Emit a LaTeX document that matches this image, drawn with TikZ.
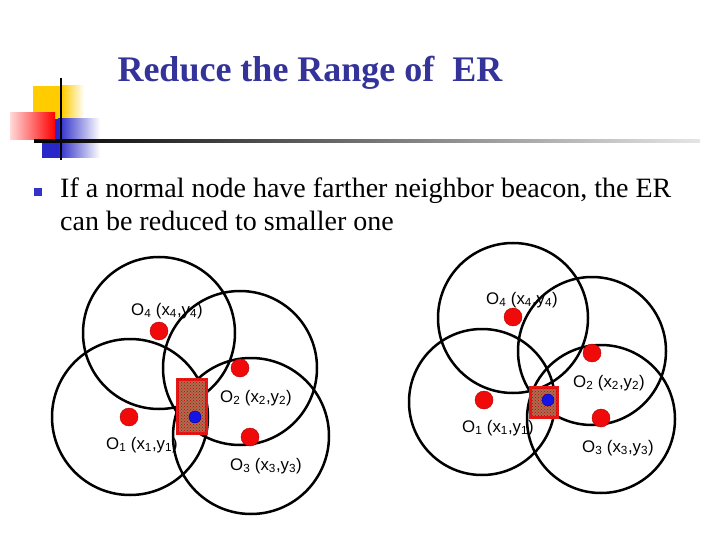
\documentclass[tikz,border=0pt]{standalone}
\usepackage{fontspec}
\setmainfont{Liberation Serif}
\newfontfamily\arialf{Liberation Sans}
\usetikzlibrary{patterns}
\definecolor{titleblue}{RGB}{51,51,153}
\definecolor{dotred}{RGB}{240,10,10}
\definecolor{beaconblue}{RGB}{20,20,230}
\definecolor{ygold}{RGB}{255,204,0}
\definecolor{lblue}{RGB}{40,40,200}
\definecolor{bulblue}{RGB}{51,51,204}
\definecolor{boxbrown}{RGB}{170,110,80}
\definecolor{boxred}{RGB}{230,25,25}
\tikzset{
  range/.style={draw=black, line width=2.5pt, circle, inner sep=0pt, minimum size=#1},
  odot/.style={circle, fill=dotred, draw=red!70!black, line width=0.4pt, inner sep=0pt, minimum size=18pt},
  bdot/.style={circle, fill=beaconblue, draw=blue!60!black, line width=0.4pt, inner sep=0pt, minimum size=12pt},
  lbl/.style={font=\arialf\fontsize{16.8}{19}\selectfont, inner sep=0pt, anchor=west},
  erbox/.style={draw=boxred, line width=3pt, fill=boxbrown},
  erpat/.style={pattern=crosshatch dots, pattern color=red!80!black},
  bodytext/.style={font=\fontsize{28}{33}\selectfont, anchor=base west, inner sep=0pt},
}
\begin{document}
\begin{tikzpicture}[x=1pt,y=-1pt]
\useasboundingbox (0,0) rectangle (720,540);
% logo
\fill[ygold] (33,86) rectangle (62,119);
\shade[left color=ygold, right color=white] (62,86) rectangle (84,119);
\fill[lblue] (42,119) rectangle (58,158);
\shade[left color=lblue, right color=white] (58,119) rectangle (100,158);
\shade[left color=red!15!white, right color=red] (10,113) rectangle (55,140);
\draw[line width=2.5pt] (61,78) -- (61,160);
\shade[left color=black, right color=gray!20] (34,140) rectangle (700,142.5);
% title
\node[text=titleblue, font=\bfseries\fontsize{36}{42}\selectfont, inner sep=0pt, anchor=base] (title) at (310,82) {Reduce the Range of \ ER};
% bullet
\node[fill=bulblue, minimum size=8pt, inner sep=0pt] (bul) at (38,192) {};
\node[bodytext] (txt1) at (60,197.5) {If a normal node have farther neighbor beacon, the ER};
\node[bodytext] (txt2) at (60,230.5) {can be reduced to smaller one};
% left diagram
\node[range=152pt] (lA) at (159,333) {};
\node[range=156pt] (lB) at (130,417) {};
\node[range=154pt] (lC) at (240,368) {};
\node[range=156pt] (lD) at (251,436) {};
\node[odot] (lO4) at (159,331) {};
\node[odot] (lO1) at (129,417) {};
\node[odot] (lO2) at (240,368) {};
\node[odot] (lO3) at (250,437) {};
\draw[erbox] (177,379) rectangle (206,433);
\fill[erpat] (177,379) rectangle (206,433);
\node[bdot] (lbeacon) at (195,417) {};
\node[lbl] (lL4) at (131,311) {O\textsubscript{4} (x\textsubscript{4},y\textsubscript{4})};
\node[lbl] (lL2) at (220,398) {O\textsubscript{2} (x\textsubscript{2},y\textsubscript{2})};
\node[lbl] (lL1) at (106,445) {O\textsubscript{1} (x\textsubscript{1},y\textsubscript{1})};
\node[lbl] (lL3) at (230,466) {O\textsubscript{3} (x\textsubscript{3},y\textsubscript{3})};
% right diagram
\node[range=150pt] (rA) at (513,318) {};
\node[range=146pt] (rB) at (482,402) {};
\node[range=148pt] (rC) at (592,351) {};
\node[range=148pt] (rD) at (601,419) {};
\node[odot] (rO4) at (513,317) {};
\node[odot] (rO1) at (484,400) {};
\node[odot] (rO2) at (592,353) {};
\node[odot] (rO3) at (601,418) {};
\draw[erbox] (530,387) rectangle (557,417);
\fill[erpat] (530,387) rectangle (557,417);
\node[bdot] (rbeacon) at (548,400) {};
\node[lbl] (rL4) at (486,300) {O\textsubscript{4} (x\textsubscript{4},y\textsubscript{4})};
\node[lbl] (rL2) at (573,383) {O\textsubscript{2} (x\textsubscript{2},y\textsubscript{2})};
\node[lbl] (rL1) at (462,428) {O\textsubscript{1} (x\textsubscript{1},y\textsubscript{1})};
\node[lbl] (rL3) at (582,448) {O\textsubscript{3} (x\textsubscript{3},y\textsubscript{3})};
\end{tikzpicture}
\end{document}
